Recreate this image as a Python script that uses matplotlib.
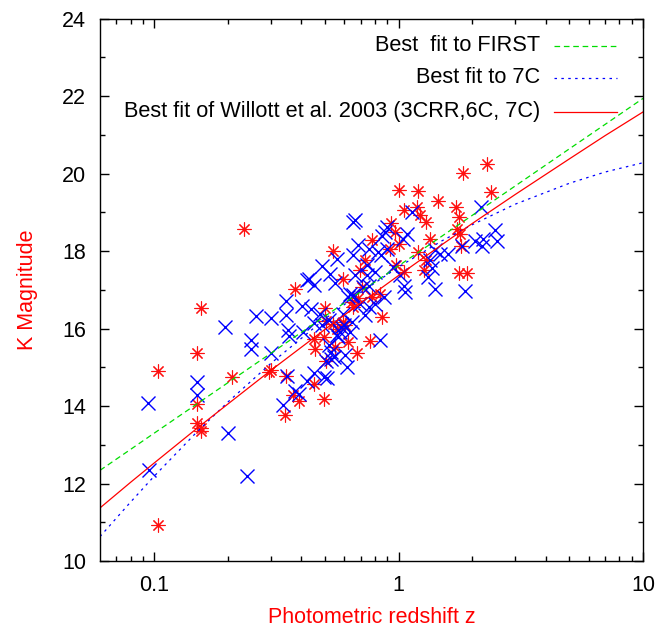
# K-z diagram: K magnitude vs photometric redshift, with three fits
import matplotlib
matplotlib.use("Agg")
import matplotlib.pyplot as plt
from matplotlib.ticker import FixedLocator, NullFormatter

plt.rcParams['font.family'] = ['Liberation Sans', 'DejaVu Sans']

# Red asterisks (z, K)
red_z = [0.104, 0.104, 0.149, 0.155, 0.149, 0.149, 0.155, 0.155, 0.209, 0.233,
         0.296, 0.300, 0.347, 0.344, 0.371, 0.390, 0.377, 0.449, 0.496, 0.541,
         0.594, 0.500, 0.505, 0.449, 0.493, 0.456, 0.505, 0.541, 0.594, 0.559,
         0.605, 0.550, 0.623, 0.675, 0.764, 0.854, 0.649, 0.644, 0.680, 0.707,
         0.696, 0.730, 0.780, 0.840, 0.777, 0.935, 1.00, 0.97, 1.00, 0.92,
         0.98, 1.05, 1.05, 1.20, 1.19, 1.22, 1.29, 1.45, 1.35, 1.20,
         1.30, 1.27, 1.71, 1.76, 1.73, 1.78, 1.80, 1.84, 2.30, 2.39,
         1.76, 1.90]
red_K = [14.90, 10.94, 15.38, 16.54, 14.06, 13.57, 13.42, 13.35, 14.74, 18.58,
         14.89, 14.92, 14.77, 13.77, 14.29, 14.12, 17.03, 14.56, 14.19, 17.99,
         17.27, 16.52, 16.20, 15.74, 15.78, 15.46, 15.17, 16.12, 16.16, 16.00,
         16.08, 15.52, 15.65, 15.37, 15.68, 16.30, 16.55, 16.68, 16.80, 17.07,
         17.52, 17.78, 18.28, 16.90, 16.81, 18.72, 19.58, 18.50, 18.18, 18.06,
         17.65, 17.45, 19.05, 19.54, 19.13, 18.92, 18.75, 19.28, 18.32, 17.97,
         17.76, 17.50, 19.13, 18.87, 18.56, 18.44, 18.12, 20.01, 20.25, 19.52,
         17.43, 17.43]

# Blue crosses (z, K)
blue_z = [0.094, 0.095, 0.149, 0.149, 0.194, 0.200, 0.239, 0.250, 0.250, 0.260,
          0.300, 0.300, 0.346, 0.346, 0.352, 0.356, 0.348, 0.337, 0.376, 0.390,
          0.401, 0.421, 0.449, 0.428, 0.486, 0.525, 0.550, 0.559, 0.408, 0.440,
          0.449, 0.477, 0.517, 0.487, 0.449, 0.421, 0.495, 0.509, 0.517, 0.530,
          0.545, 0.528, 0.505, 0.594, 0.644, 0.633, 0.565, 0.575, 0.606, 0.614,
          0.558, 0.653, 0.665, 0.895, 0.854, 0.685, 0.753, 0.827, 0.850, 0.653,
          0.664, 0.741, 0.718, 0.760, 0.632, 0.653, 0.618, 0.952, 1.010, 1.050,
          0.741, 0.800, 0.730, 0.753, 0.696, 0.800, 0.870, 0.840, 1.060, 1.41,
          1.87, 1.32, 1.35, 1.37, 1.41, 1.48, 1.59, 1.81, 2.05, 2.19,
          2.22, 2.48, 2.52, 2.17, 1.13, 1.08, 1.04, 0.88, 0.90, 0.58,
          0.60]
blue_K = [14.08, 12.34, 14.62, 14.28, 16.05, 13.31, 12.20, 15.70, 15.48, 16.32,
          16.27, 15.38, 16.70, 16.35, 15.95, 15.80, 14.77, 14.03, 14.39, 14.30,
          16.58, 17.26, 17.12, 17.29, 17.62, 17.42, 17.18, 17.80, 15.91, 16.51,
          16.13, 16.38, 16.21, 16.10, 14.86, 14.65, 14.76, 14.73, 15.57, 15.39,
          15.26, 15.22, 15.17, 16.38, 16.17, 15.91, 15.78, 15.91, 15.31, 15.00,
          15.84, 18.75, 18.80, 18.62, 18.40, 18.15, 18.06, 17.97, 17.89, 17.89,
          17.37, 17.37, 17.07, 17.11, 16.90, 16.86, 16.81, 17.59, 17.37, 17.11,
          17.63, 17.46, 16.34, 16.56, 16.64, 16.64, 16.81, 15.71, 16.94, 17.01,
          16.98, 17.33, 17.76, 17.55, 18.02, 17.93, 17.93, 18.12, 18.26, 18.12,
          18.32, 18.55, 18.26, 19.14, 19.00, 18.45, 18.32, 18.50, 18.05, 16.05,
          16.10]

# Fit curves
fit_z = [0.06, 0.08, 0.1, 0.15, 0.2, 0.3, 0.5, 0.7, 1, 1.5, 2, 3, 5, 7, 10]
first_K = [12.34, 12.88, 13.30, 14.06, 14.60, 15.36, 16.32, 16.95, 17.62,
           18.38, 18.92, 19.68, 20.64, 21.27, 21.94]
c7_K = [10.63, 11.52, 12.19, 13.34, 14.10, 15.10, 16.25, 16.93, 17.59,
        18.26, 18.68, 19.21, 19.75, 20.04, 20.28]
willott_K = [11.37, 12.03, 12.53, 13.43, 14.05, 14.92, 15.98, 16.66, 17.37,
             18.16, 18.71, 19.46, 20.38, 20.98, 21.59]

fig = plt.figure(figsize=(6.61, 6.28), dpi=100)
ax = fig.add_axes([0.1513, 0.1067, 0.8215, 0.8637])

ax.plot(red_z, red_K, linestyle='none', marker=(8, 2, 0), markersize=10,
        markeredgewidth=0.8, color='#ff1010')
ax.plot(blue_z, blue_K, linestyle='none', marker='x', markersize=9.5,
        markeredgewidth=1.0, color='#0000ff')

ax.plot(fit_z, first_K, color='#00dd00', lw=0.9, dashes=(4.5, 3))
ax.plot(fit_z, c7_K, color='#0000ff', lw=0.9, dashes=(2, 3.5))
ax.plot(fit_z, willott_K, color='#ff0000', lw=0.9)

ax.set_xscale('log')
ax.set_xlim(0.06, 10)
ax.set_ylim(10, 24)

ax.xaxis.set_major_locator(FixedLocator([0.1, 1, 10]))
ax.set_xticklabels(['0.1', '1', '10'])
minx = [0.07, 0.08, 0.09] + [i * 0.1 for i in range(2, 10)] + list(range(2, 10))
ax.xaxis.set_minor_locator(FixedLocator(minx))
ax.xaxis.set_minor_formatter(NullFormatter())
ax.set_yticks(range(10, 25, 2))
ax.yaxis.set_minor_locator(FixedLocator(range(11, 24, 2)))

ax.tick_params(which='both', direction='in', top=True, right=True,
               width=1.0, labelsize=15.5)
ax.tick_params(which='major', length=6.5)
ax.tick_params(which='minor', length=3.6)
ax.tick_params(axis='x', pad=10)
ax.tick_params(axis='y', pad=10)
for s in ax.spines.values():
    s.set_linewidth(1.0)

ax.set_xlabel('Photometric redshift z', color='#ff0000', fontsize=15.5, labelpad=8)
ax.set_ylabel('K Magnitude', color='#ff0000', fontsize=15.5, labelpad=17)

# Legend drawn gnuplot-style: right aligned text, sample line to the right
leg_labels = ['Best  fit to FIRST', 'Best fit to 7C',
              'Best fit of Willott et al. 2003 (3CRR,6C, 7C)']
leg_colors = ['#00dd00', '#0000ff', '#ff0000']
leg_dashes = [(4.5, 3), (2, 3.5), None]
leg_y = [0.950, 0.891, 0.828]
for lab, col, ds, yy in zip(leg_labels, leg_colors, leg_dashes, leg_y):
    ax.text(0.810, yy, lab, transform=ax.transAxes, ha='right', va='center',
            fontsize=15.7)
    ln, = ax.plot([0.836, 0.952], [yy, yy], transform=ax.transAxes,
                  color=col, lw=0.9)
    if ds is not None:
        ln.set_dashes(ds)

fig.savefig('out.png', dpi=100)
